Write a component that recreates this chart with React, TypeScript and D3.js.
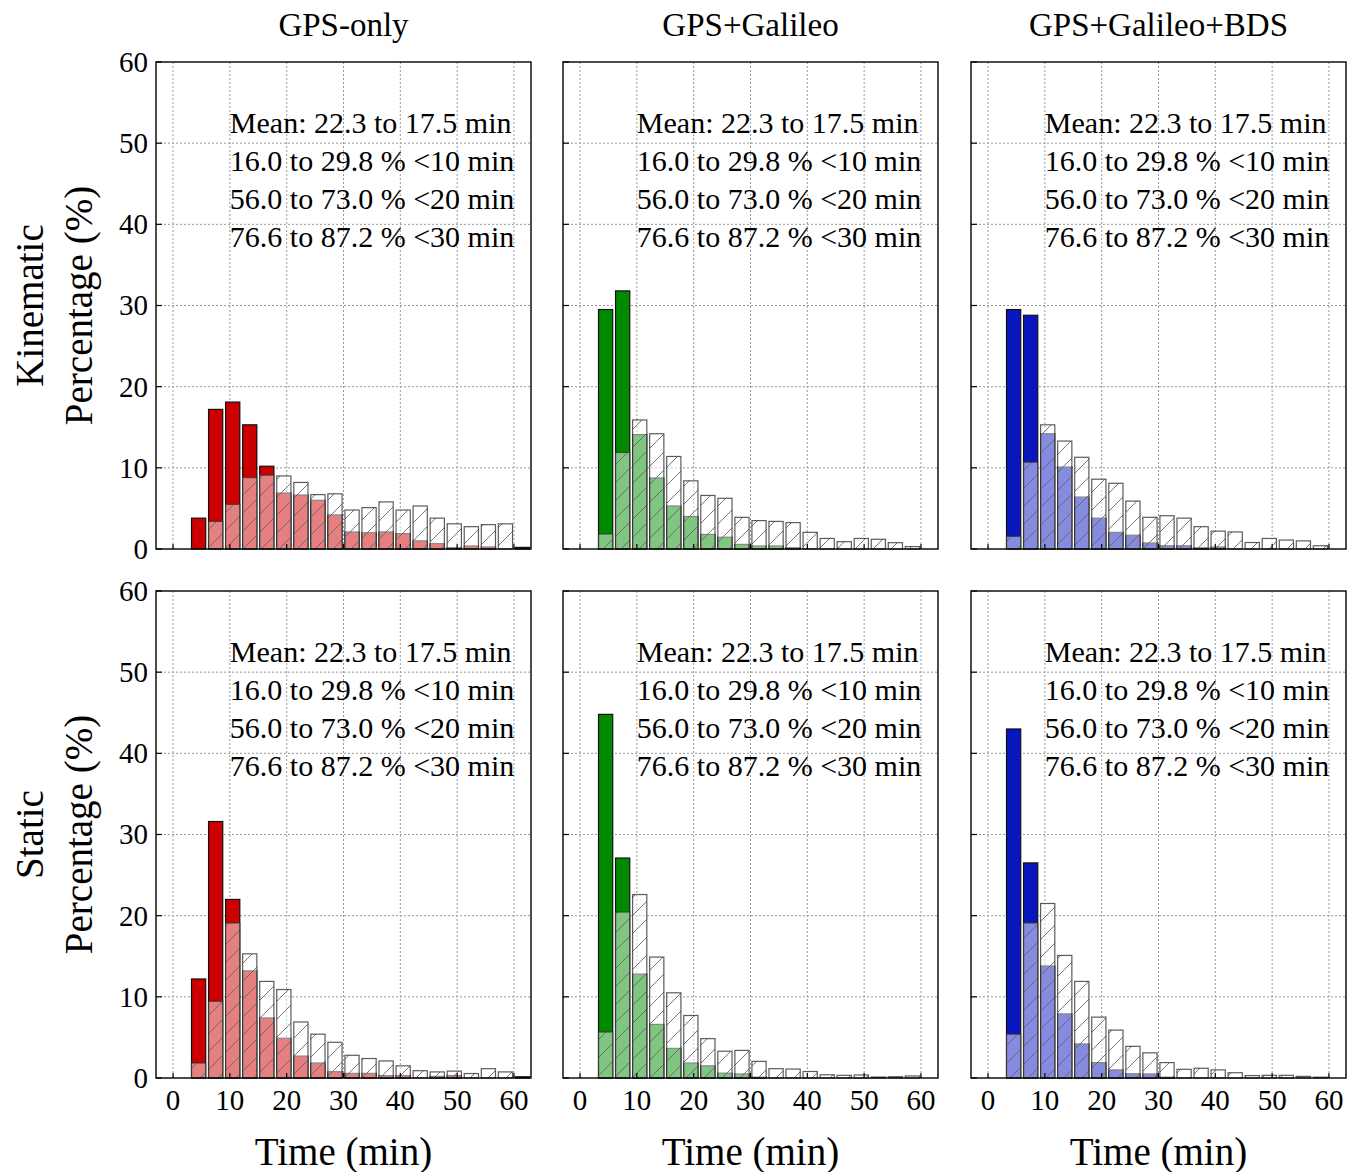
import * as d3 from 'd3'
import { useEffect, useRef } from 'react'

// bin centres (3 min bins, 3-63 min)
const binCenters = [4.5, 7.5, 10.5, 13.5, 16.5, 19.5, 22.5, 25.5, 28.5, 31.5, 34.5, 37.5, 40.5, 43.5, 46.5, 49.5, 52.5, 55.5, 58.5, 61.5]

const columnTitles = ['GPS-only', 'GPS+Galileo', 'GPS+Galileo+BDS']
const rowTitles = ['Kinematic', 'Static']
const systemColors = ['#cc0000', '#008a00', '#0a16bd']

const annotationLines = [
  'Mean: 22.3 to 17.5 min',
  '16.0 to 29.8 % <10 min',
  '56.0 to 73.0 % <20 min',
  '76.6 to 87.2 % <30 min',
]

const xTicks = [0, 10, 20, 30, 40, 50, 60]
const yTicks = [0, 10, 20, 30, 40, 50, 60]

// kinematic
const kinGpsSolid = [3.8, 17.2, 18.1, 15.3, 10.2, 6.9, 6.65, 6.0, 4.2, 2.1, 2.0, 2.1, 1.9, 1.0, 0.66, 0.16, 0.37, 0.25, 0, 0.2]
const kinGpsHatch = [0, 3.4, 5.5, 8.8, 9.1, 9.0, 8.2, 6.7, 6.8, 4.8, 5.1, 5.8, 4.8, 5.3, 3.8, 3.1, 2.75, 3.0, 3.1, 0]
const kinGalSolid = [29.5, 31.8, 14.1, 8.75, 5.3, 4.0, 1.8, 1.45, 0.57, 0.37, 0.37, 0.16, 0, 0, 0, 0, 0, 0, 0, 0]
const kinGalHatch = [1.85, 11.9, 15.9, 14.2, 11.4, 8.4, 6.6, 6.25, 3.9, 3.5, 3.4, 3.25, 2.05, 1.3, 0.9, 1.3, 1.2, 0.78, 0.3, 0]
const kinBdsSolid = [29.5, 28.8, 14.2, 10.1, 6.4, 3.8, 2.05, 1.7, 0.74, 0.4, 0.4, 0.15, 0.25, 0, 0, 0, 0, 0, 0, 0]
const kinBdsHatch = [1.56, 10.7, 15.3, 13.3, 11.3, 8.6, 8.1, 5.9, 3.9, 4.1, 3.8, 2.75, 2.2, 2.1, 0.8, 1.3, 1.1, 1.0, 0.4, 0]

// static
const staGpsSolid = [12.2, 31.6, 22.0, 13.2, 7.4, 4.9, 2.7, 1.85, 0.78, 0.57, 0.57, 0.3, 0.3, 0, 0.2, 0.3, 0, 0, 0, 0.15]
const staGpsHatch = [1.85, 9.45, 19.1, 15.3, 11.9, 10.9, 6.9, 5.4, 4.4, 2.8, 2.4, 2.1, 1.5, 0.9, 0.75, 0.85, 0.55, 1.15, 0.75, 0]
const staGalSolid = [44.8, 27.1, 12.8, 6.6, 3.65, 1.85, 1.5, 0.6, 0.5, 0.1, 0, 0, 0, 0, 0, 0, 0, 0, 0, 0]
const staGalHatch = [5.67, 20.45, 22.6, 14.9, 10.5, 7.7, 4.85, 3.3, 3.4, 2.05, 1.15, 1.1, 0.8, 0.4, 0.33, 0.37, 0.12, 0.16, 0.25, 0]
const staBdsSolid = [43.0, 26.5, 13.8, 7.9, 4.2, 1.9, 1.0, 0.53, 0.5, 0.1, 0, 0, 0, 0, 0, 0, 0, 0, 0, 0]
const staBdsHatch = [5.4, 19.1, 21.5, 15.1, 11.9, 7.5, 5.9, 3.9, 3.1, 1.9, 1.07, 1.2, 1.0, 0.65, 0.3, 0.33, 0.33, 0.2, 0.1, 0]

const solidData = [
  [kinGpsSolid, kinGalSolid, kinBdsSolid],
  [staGpsSolid, staGalSolid, staBdsSolid],
]
const hatchData = [
  [kinGpsHatch, kinGalHatch, kinBdsHatch],
  [staGpsHatch, staGalHatch, staBdsHatch],
]

const width = 1357
const height = 1172
const panelLefts = [156, 563, 971]
const panelTops = [62, 591]
const panelW = 375
const panelH = 487
const barHalf = 1.25
const font = '"Liberation Serif", "Times New Roman", serif'

const App = () => {
  const ref = useRef<SVGSVGElement>(null)

  useEffect(() => {
    const svg = d3.select(ref.current)
    svg.selectAll('*').remove()

    // hatch pattern
    const defs = svg.append('defs')
    const pat = defs
      .append('pattern')
      .attr('id', 'hatch')
      .attr('patternUnits', 'userSpaceOnUse')
      .attr('width', 18)
      .attr('height', 18)
    ;[
      [0, 18, 18, 0],
      [-9, 9, 9, -9],
      [9, 27, 27, 9],
    ].forEach(([x1, y1, x2, y2]) => {
      pat
        .append('line')
        .attr('x1', x1)
        .attr('y1', y1)
        .attr('x2', x2)
        .attr('y2', y2)
        .attr('stroke', '#666')
        .attr('stroke-width', 0.9)
    })

    rowTitles.forEach((rowTitle, r) => {
      columnTitles.forEach((colTitle, c) => {
        const left = panelLefts[c]
        const top = panelTops[r]
        const x = d3.scaleLinear().domain([-3, 63]).range([left, left + panelW])
        const y = d3.scaleLinear().domain([0, 60]).range([top + panelH, top])
        const g = svg.append('g')

        // grid
        g.selectAll('.vgrid')
          .data(xTicks)
          .enter()
          .append('line')
          .attr('x1', (d) => x(d))
          .attr('x2', (d) => x(d))
          .attr('y1', top)
          .attr('y2', top + panelH)
          .attr('stroke', '#999')
          .attr('stroke-width', 1)
          .attr('stroke-dasharray', '2,2')
        g.selectAll('.hgrid')
          .data(yTicks.slice(1, -1))
          .enter()
          .append('line')
          .attr('x1', left)
          .attr('x2', left + panelW)
          .attr('y1', (d) => y(d))
          .attr('y2', (d) => y(d))
          .attr('stroke', '#999')
          .attr('stroke-width', 1)
          .attr('stroke-dasharray', '2,2')

        const solid = solidData[r][c]
        const hatch = hatchData[r][c]
        const col = systemColors[c]

        // solid bars
        g.selectAll('.solid')
          .data(binCenters.map((b, i) => ({ b, v: solid[i] })).filter((d) => d.v > 0))
          .enter()
          .append('rect')
          .attr('x', (d) => x(d.b - barHalf))
          .attr('width', (d) => x(d.b + barHalf) - x(d.b - barHalf))
          .attr('y', (d) => y(d.v))
          .attr('height', (d) => y(0) - y(d.v))
          .attr('fill', col)
          .attr('stroke', '#111')
          .attr('stroke-width', 1.2)

        // hatched bars on top, half transparent white
        const hatchRows = binCenters.map((b, i) => ({ b, v: hatch[i] })).filter((d) => d.v > 0)
        g.selectAll('.hfill')
          .data(hatchRows)
          .enter()
          .append('rect')
          .attr('x', (d) => x(d.b - barHalf))
          .attr('width', (d) => x(d.b + barHalf) - x(d.b - barHalf))
          .attr('y', (d) => y(d.v))
          .attr('height', (d) => y(0) - y(d.v))
          .attr('fill', 'white')
          .attr('fill-opacity', 0.5)
        g.selectAll('.hpat')
          .data(hatchRows)
          .enter()
          .append('rect')
          .attr('x', (d) => x(d.b - barHalf))
          .attr('width', (d) => x(d.b + barHalf) - x(d.b - barHalf))
          .attr('y', (d) => y(d.v))
          .attr('height', (d) => y(0) - y(d.v))
          .attr('fill', 'url(#hatch)')
          .attr('stroke', '#333')
          .attr('stroke-opacity', 0.8)
          .attr('stroke-width', 1.2)

        // ticks (inward)
        g.selectAll('.yt')
          .data(yTicks)
          .enter()
          .append('line')
          .attr('x1', left)
          .attr('x2', left + 6)
          .attr('y1', (d) => y(d))
          .attr('y2', (d) => y(d))
          .attr('stroke', '#000')
          .attr('stroke-width', 1.2)
        g.selectAll('.xt')
          .data(xTicks)
          .enter()
          .append('line')
          .attr('x1', (d) => x(d))
          .attr('x2', (d) => x(d))
          .attr('y1', top + panelH)
          .attr('y2', top + panelH - 5)
          .attr('stroke', '#000')
          .attr('stroke-width', 1.2)

        // frame
        g.append('rect')
          .attr('x', left)
          .attr('y', top)
          .attr('width', panelW)
          .attr('height', panelH)
          .attr('fill', 'none')
          .attr('stroke', '#000')
          .attr('stroke-width', 1.4)

        // y tick labels on first column
        if (c === 0) {
          g.selectAll('.yl')
            .data(yTicks)
            .enter()
            .append('text')
            .attr('x', left - 8)
            .attr('y', (d) => y(d))
            .attr('dy', '0.34em')
            .attr('text-anchor', 'end')
            .style('font-family', font)
            .style('font-size', '29px')
            .text((d) => d)
        }

        // x tick labels on bottom row
        if (r === 1) {
          g.selectAll('.xl')
            .data(xTicks)
            .enter()
            .append('text')
            .attr('x', (d) => x(d))
            .attr('y', top + panelH + 32)
            .attr('text-anchor', 'middle')
            .style('font-family', font)
            .style('font-size', '29px')
            .text((d) => d)
          g.append('text')
            .attr('x', left + panelW / 2)
            .attr('y', top + panelH + 87)
            .attr('text-anchor', 'middle')
            .style('font-family', font)
            .style('font-size', '39px')
            .text('Time (min)')
        }

        // column titles
        if (r === 0) {
          g.append('text')
            .attr('x', left + panelW / 2)
            .attr('y', top - 26)
            .attr('text-anchor', 'middle')
            .style('font-family', font)
            .style('font-size', '33px')
            .text(colTitle)
        }

        // annotation
        annotationLines.forEach((line, i) => {
          g.append('text')
            .attr('x', x(10))
            .attr('y', top + 71 + i * 38)
            .style('font-family', font)
            .style('font-size', '30px')
            .text(line)
        })

        // row labels
        if (c === 0) {
          const cy = top + panelH / 2
          g.append('text')
            .attr('transform', `translate(43, ${cy}) rotate(-90)`)
            .attr('text-anchor', 'middle')
            .style('font-family', font)
            .style('font-size', '39px')
            .text(rowTitle)
          g.append('text')
            .attr('transform', `translate(92, ${cy}) rotate(-90)`)
            .attr('text-anchor', 'middle')
            .style('font-family', font)
            .style('font-size', '39px')
            .text('Percentage (%)')
        }
      })
    })
  }, [])

  return (
    <svg
      ref={ref}
      width={width}
      height={height}
      style={{ display: 'block', position: 'absolute', left: 0, top: 0 }}
    />
  )
}

export default App
